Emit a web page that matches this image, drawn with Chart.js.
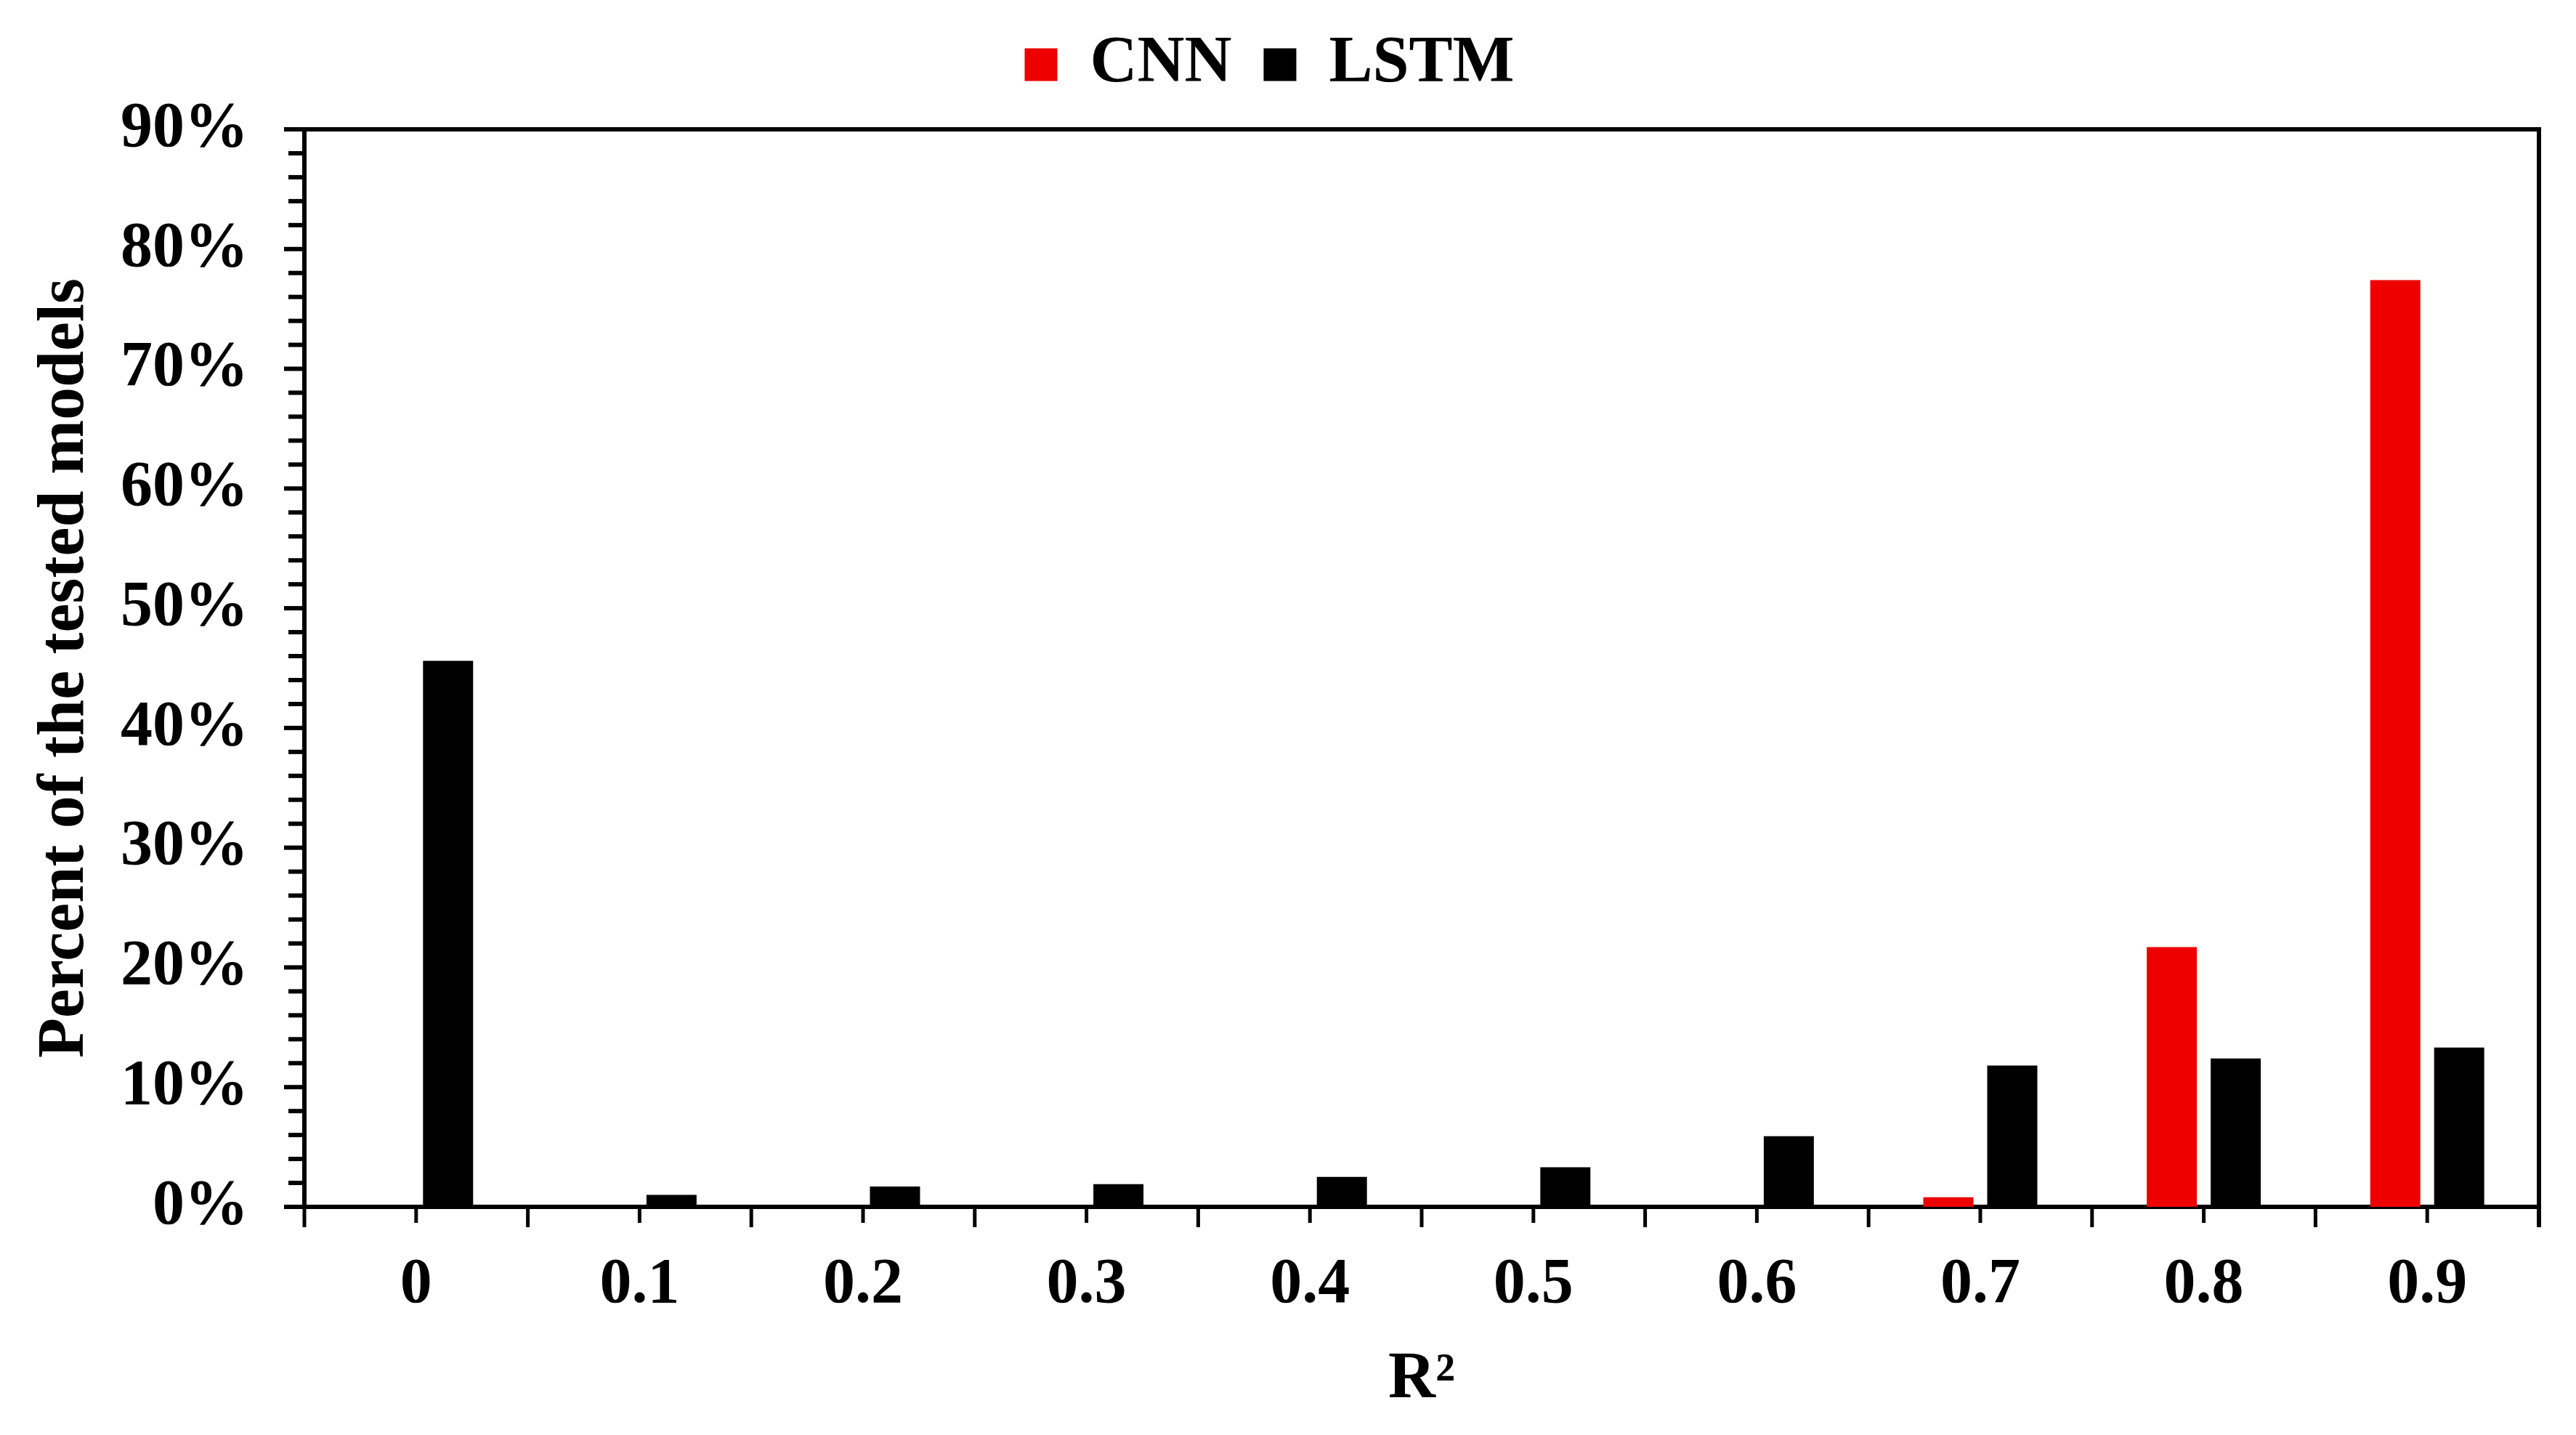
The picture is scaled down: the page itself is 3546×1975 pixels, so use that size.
<!DOCTYPE html>
<html>
<head>
<meta charset="utf-8">
<script src="https://cdn.jsdelivr.net/npm/chart.js@4"></script>
<style>
  html, body { margin:0; padding:0; background:#fff; }
  #wrap { width:3546px; height:1975px; }
</style>
</head>
<body>
<div id="wrap"><canvas id="c"></canvas></div>
<script>
// R² bins and share of tested models (%)
const r2Labels = ['0', '0.1', '0.2', '0.3', '0.4', '0.5', '0.6', '0.7', '0.8', '0.9'];
const cnnPercent  = [0, 0, 0, 0, 0, 0, 0, 0.8, 21.7, 77.4];
const lstmPercent = [45.6, 1.0, 1.7, 1.9, 2.5, 3.3, 5.9, 11.8, 12.4, 13.3];
const yMax = 90, yStep = 10, yMinorStep = 2;

const serif = '"Liberation Serif", "Times New Roman", serif';

// box frame + outside tick marks like the original figure
const frameTicks = {
  id: 'frameTicks',
  afterDraw(chart) {
    const { ctx, chartArea: a, scales: { x, y } } = chart;
    ctx.save();
    ctx.strokeStyle = '#000';
    ctx.lineCap = 'butt';
    ctx.lineWidth = 6;
    ctx.beginPath();
    ctx.moveTo(a.left - 28, a.top); ctx.lineTo(a.right + 3, a.top);
    ctx.moveTo(a.right, a.top); ctx.lineTo(a.right, a.bottom + 28);
    ctx.stroke();
    // y ticks: major every 10%, minor every 2%
    for (let v = 0; v <= yMax; v += yMinorStep) {
      const py = y.getPixelForValue(v);
      const len = v % yStep === 0 ? 28 : 22;
      ctx.beginPath();
      ctx.moveTo(a.left - len, py); ctx.lineTo(a.left, py);
      ctx.stroke();
    }
    // x ticks: long at bin edges, short at bin centres
    ctx.lineWidth = 5;
    for (let i = 0; i <= r2Labels.length; i++) {
      const px = x.getPixelForValue(i - 0.5);
      ctx.beginPath();
      ctx.moveTo(px, a.bottom); ctx.lineTo(px, a.bottom + 28);
      ctx.stroke();
      if (i < r2Labels.length) {
        const pc = x.getPixelForValue(i);
        ctx.beginPath();
        ctx.moveTo(pc, a.bottom); ctx.lineTo(pc, a.bottom + 22);
        ctx.stroke();
      }
    }
    ctx.restore();
  }
};

new Chart(document.getElementById('c'), {
  type: 'bar',
  data: {
    labels: r2Labels,
    datasets: [
      { label: 'CNN', data: cnnPercent, backgroundColor: '#ee0000', borderWidth: 0,
        categoryPercentage: 0.572, barPercentage: 0.784 },
      { label: 'LSTM', data: lstmPercent, backgroundColor: '#000000', borderWidth: 0,
        categoryPercentage: 0.572, barPercentage: 0.784 }
    ]
  },
  options: {
    responsive: true,
    maintainAspectRatio: false,
    devicePixelRatio: 1,
    animation: false,
    layout: { padding: { top: 0, right: 51, bottom: 0, left: 0 } },
    plugins: {
      legend: {
        position: 'top',
        labels: {
          color: '#000',
          boxWidth: 45, boxHeight: 45, padding: 44,
          font: { family: serif, size: 90, weight: 'bold' }
        }
      },
      // empty spacer between legend and plot box
      title: {
        display: true, text: '', weight: 500,
        font: { size: 1, lineHeight: 1 },
        padding: { top: 33, bottom: 0 }
      },
      tooltip: { enabled: false }
    },
    scales: {
      x: {
        grid: { display: false, drawTicks: false },
        border: { display: true, color: '#000', width: 6 },
        ticks: {
          color: '#000', padding: 55, autoSkip: false, maxRotation: 0,
          font: { family: serif, size: 88, weight: 'bold' }
        },
        title: {
          display: true, text: 'R²', color: '#000',
          padding: { top: 0, bottom: 21 },
          font: { family: serif, size: 90, weight: 'bold' }
        },
        afterFit(scale) { scale.height = 314; }
      },
      y: {
        min: 0, max: yMax,
        grid: { display: false, drawTicks: false },
        border: { display: true, color: '#000', width: 6 },
        ticks: {
          stepSize: yStep, color: '#000', padding: 77,
          font: { family: serif, size: 88, weight: 'bold' },
          callback: v => v + '%'
        },
        title: {
          display: true, text: 'Percent of the tested models', color: '#000',
          padding: { top: 37, bottom: 0 },
          font: { family: serif, size: 90, weight: 'bold' }
        },
        afterFit(scale) { scale.width = 419; }
      }
    }
  },
  plugins: [frameTicks]
});
</script>
</body>
</html>
